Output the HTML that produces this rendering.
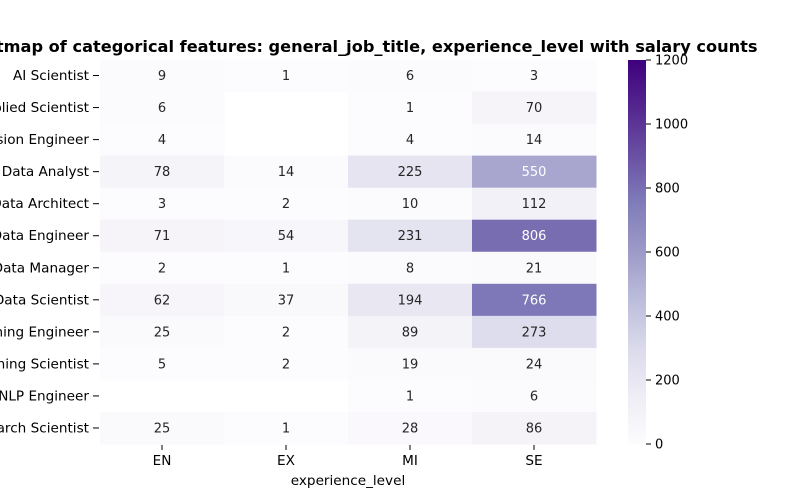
<!DOCTYPE html>
<html><head><meta charset="utf-8"><style>
body{margin:0;background:#fff;width:800px;height:500px;overflow:hidden;font-family:"DejaVu Sans","Liberation Sans",sans-serif}
svg text{font-family:"DejaVu Sans","Liberation Sans",sans-serif}
</style></head><body>
<svg id="chart" width="800" height="500" xmlns="http://www.w3.org/2000/svg">
<defs><linearGradient id="cb" x1="0" y1="1" x2="0" y2="0">
<stop offset="0" stop-color="#fcfbfd"/><stop offset="0.125" stop-color="#efedf5"/><stop offset="0.25" stop-color="#dadaeb"/><stop offset="0.375" stop-color="#bcbddc"/><stop offset="0.5" stop-color="#9e9ac8"/><stop offset="0.625" stop-color="#807dba"/><stop offset="0.75" stop-color="#6a51a3"/><stop offset="0.875" stop-color="#54278f"/><stop offset="1" stop-color="#3f007d"/>
</linearGradient></defs>
<text x="359" y="52" text-anchor="middle" font-size="16.2" font-weight="bold">Heatmap of categorical features: general_job_title, experience_level with salary counts</text>
<g id="cells"></g>
<text x="348" y="485" text-anchor="middle" font-size="13.6">experience_level</text>
<rect x="628" y="60" width="18" height="384" fill="url(#cb)"/>
<g id="cbticks"></g>
</svg>
<script>
const rows=["AI Scientist","Applied Scientist","Computer Vision Engineer","Data Analyst","Data Architect","Data Engineer","Data Manager","Data Scientist","Machine Learning Engineer","Machine Learning Scientist","NLP Engineer","Research Scientist"];
const cols=["EN","EX","MI","SE"];
const colEN=[9,6,4,78,3,71,2,62,25,5,null,25];
const colEX=[1,null,null,14,2,54,1,37,2,2,null,1];
const colMI=[6,1,4,225,10,231,8,194,89,19,1,28];
const colSE=[3,70,14,550,112,806,21,766,273,24,6,86];
const cbTicks=[0,200,400,600,800,1000,1200];
const vmax=1200;
const stops=["#fcfbfd","#efedf5","#dadaeb","#bcbddc","#9e9ac8","#807dba","#6a51a3","#54278f","#3f007d"];
function hex(h){return [1,3,5].map(i=>parseInt(h.substr(i,2),16));}
function color(v){let t=Math.max(0,Math.min(1,v/vmax))*(stops.length-1);let i=Math.min(Math.floor(t),stops.length-2);let f=t-i;let a=hex(stops[i]),b=hex(stops[i+1]);return "rgb("+a.map((x,k)=>Math.round(x+(b[k]-x)*f)).join(",")+")";}
const x0=100,cw=124,y0=59.5,rh=(444-59.5)/12;
const xs=c=>x0+c*cw, ys=r=>y0+r*rh;
const ns="http://www.w3.org/2000/svg";
const g=document.getElementById("cells");
const series=[colEN,colEX,colMI,colSE];
function mk(tag,attrs,parent){const e=document.createElementNS(ns,tag);for(const k in attrs)e.setAttribute(k,attrs[k]);parent.appendChild(e);return e;}
series.forEach((arr,c)=>{arr.forEach((v,r)=>{
 if(v===null)return;
 const rect=mk("rect",{x:xs(c),y:ys(r),width:cw+0.5,height:rh+0.5,fill:color(v)},g);
 
 
 const t=mk("text",{x:xs(c)+cw/2,y:ys(r)+rh/2+4.5,"text-anchor":"middle","font-size":13,fill:v>500?"#fff":"#262626"},g);
 t.textContent=v;
 
 
});});
rows.forEach((n,r)=>{
 const t=mk("text",{x:89,y:ys(r)+rh/2+4.5,"text-anchor":"end","font-size":13.6},g);
 t.textContent=n;
 
 
 const l=mk("line",{x1:93,x2:99,y1:ys(r)+rh/2,y2:ys(r)+rh/2,stroke:"#000","stroke-width":1},g);
 
 
});
cols.forEach((n,c)=>{
 const l=mk("line",{x1:xs(c)+cw/2,x2:xs(c)+cw/2,y1:445,y2:450,stroke:"#000","stroke-width":1},g);
 
 
 const t=mk("text",{x:xs(c)+cw/2,y:465,"text-anchor":"middle","font-size":13.6},g);
 t.textContent=n;
 
 
});
const cg=document.getElementById("cbticks");
cbTicks.forEach(v=>{
 const y=444-v/vmax*384;
 const l=mk("line",{x1:646,x2:651,y1:y,y2:y,stroke:"#000","stroke-width":1},cg);
 
 
 const t=mk("text",{x:655,y:y+4.5,"font-size":13},cg);
 t.textContent=v;
 
 
});
</script>
</body></html>
